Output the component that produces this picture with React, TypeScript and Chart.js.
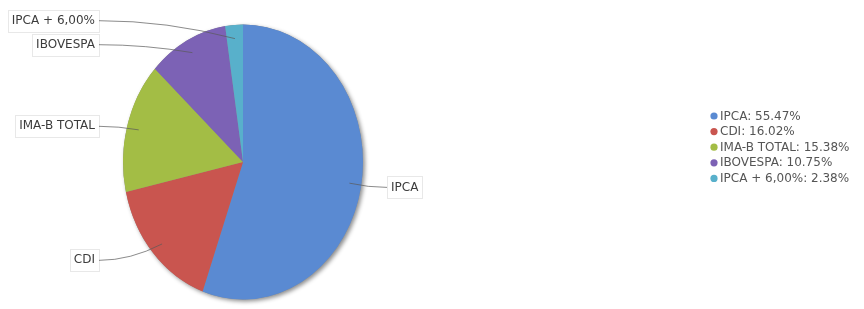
import React, { useEffect, useRef } from "react";
import { Chart, registerables } from "chart.js";

Chart.register(...registerables);

const categories = ["IPCA", "CDI", "IMA-B TOTAL", "IBOVESPA", "IPCA + 6,00%"];
const shares = [55.47, 16.02, 15.38, 10.75, 2.38];
const colors = ["#5A8AD2", "#C9554F", "#A3BD45", "#7C62B5", "#58B0CB"];

const FONT = "DejaVu Sans";
const SY = 137.5 / 120; // vertical stretch of the pie (drawn as an ellipse)

const ellipsePlugin = {
  id: "ellipse",
  beforeDatasetsDraw(chart: any) {
    const arc = chart.getDatasetMeta(0).data[0];
    if (!arc) return;
    const { x, y, outerRadius } = arc;
    const ctx = chart.ctx;
    ctx.save();
    ctx.shadowColor = "rgba(0,0,0,0.45)";
    ctx.shadowBlur = 4;
    ctx.shadowOffsetX = 2;
    ctx.shadowOffsetY = 2;
    ctx.fillStyle = "#8a8a8a";
    ctx.beginPath();
    ctx.ellipse(x, y, outerRadius, outerRadius * SY, 0, 0, Math.PI * 2);
    ctx.fill();
    ctx.restore();
    ctx.save();
    ctx.translate(x, y);
    ctx.scale(1, SY);
    ctx.translate(-x, -y);
  },
  afterDatasetsDraw(chart: any) {
    chart.ctx.restore();
    const ctx = chart.ctx;
    const meta = chart.getDatasetMeta(0);
    const arcs = meta.data;
    if (!arcs.length) return;
    const cx = arcs[0].x;
    const cy = arcs[0].y;
    const rx = arcs[0].outerRadius;
    const ry = rx * SY;

    type L = { i: number; side: number; ax: number; ay: number; ly: number };
    const items: L[] = arcs.map((a: any, i: number) => {
      const mid = (a.startAngle + a.endAngle) / 2;
      const c = Math.cos(mid);
      const s = Math.sin(mid);
      const side = c >= 0 ? 1 : -1;
      return {
        i,
        side,
        ax: cx + c * rx * 0.9,
        ay: cy + s * ry * 0.9,
        ly: cy + s * ry * (s > 0 ? 1.08 : 1.0),
      };
    });
    const minGap = 24;
    [-1, 1].forEach((side) => {
      const grp = items.filter((it) => it.side === side).sort((a, b) => a.ly - b.ly);
      for (let k = 1; k < grp.length; k++) {
        const d = grp[k].ly - grp[k - 1].ly;
        if (d < minGap) {
          const push = (minGap - d) / 2;
          grp[k - 1].ly -= push;
          grp[k].ly += push;
        }
      }
    });

    ctx.save();
    ctx.font = `12px '${FONT}'`;
    ctx.textBaseline = "middle";
    items.forEach((it) => {
      const text = categories[it.i];
      const w = ctx.measureText(text).width;
      const gap = 28;
      const bx = it.side > 0 ? cx + rx + gap : cx - rx - gap - w;
      const by = it.ly;
      const ex = it.side > 0 ? bx - 4 : bx + w + 4;
      ctx.strokeStyle = "rgba(90,90,90,0.7)";
      ctx.lineWidth = 1;
      ctx.beginPath();
      ctx.moveTo(ex, by);
      ctx.quadraticCurveTo((ex + it.ax) / 2, by, it.ax, it.ay);
      ctx.stroke();
      ctx.strokeStyle = "rgba(0,0,0,0.09)";
      ctx.strokeRect(Math.round(bx - 4) + 0.5, Math.round(by - 11) + 0.5, Math.round(w + 8), 22);
      ctx.fillStyle = "#3c3c3c";
      ctx.textAlign = "left";
      ctx.fillText(text, bx, by);
    });
    ctx.restore();
  },
  afterDraw(chart: any) {
    const ctx = chart.ctx;
    ctx.save();
    ctx.font = `12px '${FONT}'`;
    ctx.textBaseline = "middle";
    ctx.textAlign = "left";
    const x0 = 714;
    const y0 = 116;
    const step = 15.6;
    categories.forEach((name, i) => {
      const y = y0 + i * step;
      ctx.fillStyle = colors[i];
      ctx.beginPath();
      ctx.arc(x0, y, 3.6, 0, Math.PI * 2);
      ctx.fill();
      ctx.fillStyle = "#555555";
      ctx.fillText(`${name}: ${shares[i].toFixed(2)}%`, x0 + 6, y + 0.5);
    });
    ctx.restore();
  },
};

export default function App() {
  const ref = useRef<HTMLCanvasElement>(null);
  useEffect(() => {
    if (!ref.current) return;
    const chart = new Chart(ref.current, {
      type: "pie",
      data: {
        labels: categories,
        datasets: [
          {
            data: shares,
            backgroundColor: colors,
            borderWidth: 0,
            radius: 120,
          } as any,
        ],
      },
      options: {
        responsive: false,
        animation: false,
        events: [],
        layout: { padding: { left: 0, right: 378, top: 15, bottom: 0 } },
        plugins: {
          legend: { display: false },
          tooltip: { enabled: false },
        },
      },
      plugins: [ellipsePlugin],
    });
    return () => chart.destroy();
  }, []);
  return (
    <div style={{ position: "fixed", left: 0, top: 0, width: 864, height: 309, background: "#fff" }}>
      <canvas ref={ref} width={864} height={309} style={{ display: "block" }} />
    </div>
  );
}
